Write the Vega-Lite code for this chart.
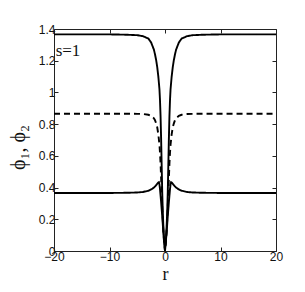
{
"$schema": "https://vega.github.io/schema/vega-lite/v6.json",
"width": 222, "height": 222,
"autosize": "none",
"padding": {"left": 54, "top": 29, "right": 29, "bottom": 41},
"background": "white",
"config": {
  "view": {"stroke": null},
  "axis": {"grid": false, "domainColor": "#222", "domainWidth": 1, "tickColor": "#222", "tickWidth": 1, "tickSize": -4, "labelPadding": 3, "labelFont": "Liberation Sans", "labelFontSize": 12, "labelColor": "#111", "labelFlush": false, "titleFont": "Liberation Serif", "titleFontSize": 18, "titleFontWeight": "normal", "titleColor": "#111"}
},
"datasets": {
  "curves": [
    {"r":-20,"v":1.366,"s":"a"},{"r":-10,"v":1.366,"s":"a"},{"r":-7,"v":1.364,"s":"a"},{"r":-5,"v":1.361,"s":"a"},{"r":-4,"v":1.355,"s":"a"},{"r":-3,"v":1.34,"s":"a"},{"r":-2.5,"v":1.315,"s":"a"},{"r":-2,"v":1.27,"s":"a"},{"r":-1.8,"v":1.24,"s":"a"},{"r":-1.6,"v":1.205,"s":"a"},{"r":-1.4,"v":1.16,"s":"a"},{"r":-1.2,"v":1.10,"s":"a"},{"r":-1,"v":1.02,"s":"a"},{"r":-0.9,"v":0.95,"s":"a"},{"r":-0.8,"v":0.85,"s":"a"},{"r":-0.7,"v":0.71,"s":"a"},{"r":-0.6,"v":0.54,"s":"a"},{"r":-0.5,"v":0.37,"s":"a"},{"r":-0.4,"v":0.25,"s":"a"},{"r":-0.3,"v":0.16,"s":"a"},{"r":-0.2,"v":0.09,"s":"a"},{"r":-0.1,"v":0.04,"s":"a"},
    {"r":0,"v":0,"s":"a"},
    {"r":0.1,"v":0.04,"s":"a"},{"r":0.2,"v":0.09,"s":"a"},{"r":0.3,"v":0.16,"s":"a"},{"r":0.4,"v":0.25,"s":"a"},{"r":0.5,"v":0.37,"s":"a"},{"r":0.6,"v":0.54,"s":"a"},{"r":0.7,"v":0.71,"s":"a"},{"r":0.8,"v":0.85,"s":"a"},{"r":0.9,"v":0.95,"s":"a"},{"r":1,"v":1.02,"s":"a"},{"r":1.2,"v":1.10,"s":"a"},{"r":1.4,"v":1.16,"s":"a"},{"r":1.6,"v":1.205,"s":"a"},{"r":1.8,"v":1.24,"s":"a"},{"r":2,"v":1.27,"s":"a"},{"r":2.5,"v":1.315,"s":"a"},{"r":3,"v":1.34,"s":"a"},{"r":4,"v":1.355,"s":"a"},{"r":5,"v":1.361,"s":"a"},{"r":7,"v":1.364,"s":"a"},{"r":10,"v":1.366,"s":"a"},{"r":20,"v":1.366,"s":"a"},

    {"r":-20,"v":0.866,"s":"b"},{"r":-10,"v":0.866,"s":"b"},{"r":-7,"v":0.866,"s":"b"},{"r":-5,"v":0.865,"s":"b"},{"r":-4,"v":0.864,"s":"b"},{"r":-3,"v":0.859,"s":"b"},{"r":-2.5,"v":0.852,"s":"b"},{"r":-2,"v":0.837,"s":"b"},{"r":-1.8,"v":0.825,"s":"b"},{"r":-1.6,"v":0.805,"s":"b"},{"r":-1.4,"v":0.78,"s":"b"},{"r":-1.2,"v":0.735,"s":"b"},{"r":-1,"v":0.67,"s":"b"},{"r":-0.9,"v":0.62,"s":"b"},{"r":-0.8,"v":0.55,"s":"b"},{"r":-0.7,"v":0.46,"s":"b"},{"r":-0.6,"v":0.37,"s":"b"},{"r":-0.5,"v":0.28,"s":"b"},{"r":-0.4,"v":0.2,"s":"b"},{"r":-0.3,"v":0.13,"s":"b"},{"r":-0.2,"v":0.07,"s":"b"},{"r":-0.1,"v":0.03,"s":"b"},
    {"r":0,"v":0,"s":"b"},
    {"r":0.1,"v":0.03,"s":"b"},{"r":0.2,"v":0.07,"s":"b"},{"r":0.3,"v":0.13,"s":"b"},{"r":0.4,"v":0.2,"s":"b"},{"r":0.5,"v":0.28,"s":"b"},{"r":0.6,"v":0.37,"s":"b"},{"r":0.7,"v":0.46,"s":"b"},{"r":0.8,"v":0.55,"s":"b"},{"r":0.9,"v":0.62,"s":"b"},{"r":1,"v":0.67,"s":"b"},{"r":1.2,"v":0.735,"s":"b"},{"r":1.4,"v":0.78,"s":"b"},{"r":1.6,"v":0.805,"s":"b"},{"r":1.8,"v":0.825,"s":"b"},{"r":2,"v":0.837,"s":"b"},{"r":2.5,"v":0.852,"s":"b"},{"r":3,"v":0.859,"s":"b"},{"r":4,"v":0.864,"s":"b"},{"r":5,"v":0.865,"s":"b"},{"r":7,"v":0.866,"s":"b"},{"r":10,"v":0.866,"s":"b"},{"r":20,"v":0.866,"s":"b"},

    {"r":-20,"v":0.366,"s":"c"},{"r":-10,"v":0.366,"s":"c"},{"r":-7,"v":0.367,"s":"c"},{"r":-5,"v":0.369,"s":"c"},{"r":-4,"v":0.372,"s":"c"},{"r":-3,"v":0.38,"s":"c"},{"r":-2.5,"v":0.388,"s":"c"},{"r":-2,"v":0.40,"s":"c"},{"r":-1.8,"v":0.407,"s":"c"},{"r":-1.6,"v":0.415,"s":"c"},{"r":-1.4,"v":0.424,"s":"c"},{"r":-1.25,"v":0.431,"s":"c"},{"r":-1.1,"v":0.434,"s":"c"},{"r":-1.0,"v":0.42,"s":"c"},{"r":-0.9,"v":0.39,"s":"c"},{"r":-0.8,"v":0.35,"s":"c"},{"r":-0.7,"v":0.31,"s":"c"},{"r":-0.6,"v":0.265,"s":"c"},{"r":-0.5,"v":0.22,"s":"c"},{"r":-0.4,"v":0.17,"s":"c"},{"r":-0.3,"v":0.12,"s":"c"},{"r":-0.2,"v":0.08,"s":"c"},{"r":-0.1,"v":0.045,"s":"c"},
    {"r":0,"v":0.02,"s":"c"},
    {"r":0.1,"v":0.045,"s":"c"},{"r":0.2,"v":0.08,"s":"c"},{"r":0.3,"v":0.12,"s":"c"},{"r":0.4,"v":0.17,"s":"c"},{"r":0.5,"v":0.22,"s":"c"},{"r":0.6,"v":0.265,"s":"c"},{"r":0.7,"v":0.31,"s":"c"},{"r":0.8,"v":0.35,"s":"c"},{"r":0.9,"v":0.39,"s":"c"},{"r":1.0,"v":0.42,"s":"c"},{"r":1.1,"v":0.434,"s":"c"},{"r":1.25,"v":0.431,"s":"c"},{"r":1.4,"v":0.424,"s":"c"},{"r":1.6,"v":0.415,"s":"c"},{"r":1.8,"v":0.407,"s":"c"},{"r":2,"v":0.40,"s":"c"},{"r":2.5,"v":0.388,"s":"c"},{"r":3,"v":0.38,"s":"c"},{"r":4,"v":0.372,"s":"c"},{"r":5,"v":0.369,"s":"c"},{"r":7,"v":0.367,"s":"c"},{"r":10,"v":0.366,"s":"c"},{"r":20,"v":0.366,"s":"c"}
  ],
  "label": [{"r": -19.7, "v": 1.228, "t": "s=1"}]
},
"layer": [
  {
    "data": {"name": "curves"},
    "mark": {"type": "line", "color": "black", "strokeWidth": 1.9, "clip": true},
    "encoding": {
      "x": {"field": "r", "type": "quantitative", "scale": {"domain": [-20, 20], "nice": false, "zero": false},
            "axis": {"orient": "bottom", "title": "r", "values": [-20, -10, 0, 10, 20], "labelPadding": 4, "titlePadding": 3}},
      "y": {"field": "v", "type": "quantitative", "scale": {"domain": [0, 1.4], "nice": false},
            "axis": {"orient": "left", "title": "ϕ₁, ϕ₂", "titleFontSize": 20, "values": [0, 0.2, 0.4, 0.6, 0.8, 1, 1.2, 1.4], "format": "~g", "titlePadding": 10, "titleY": 118}},
      "detail": {"field": "s", "type": "nominal"},
      "strokeDash": {"field": "s", "type": "nominal", "scale": {"domain": ["a", "b", "c"], "range": [[1, 0], [6, 4], [1, 0]]}, "legend": null}
    }
  },
  {
    "data": {"name": "label"},
    "mark": {"type": "text", "align": "left", "baseline": "alphabetic", "font": "Liberation Serif", "fontSize": 17, "color": "#111"},
    "encoding": {
      "x": {"field": "r", "type": "quantitative", "scale": {"domain": [-20, 20], "nice": false, "zero": false},
            "axis": {"orient": "top", "title": null, "labels": false, "values": [-20, -10, 0, 10, 20]}},
      "y": {"field": "v", "type": "quantitative", "scale": {"domain": [0, 1.4], "nice": false},
            "axis": {"orient": "right", "title": null, "labels": false, "values": [0, 0.2, 0.4, 0.6, 0.8, 1, 1.2, 1.4]}},
      "text": {"field": "t"}
    }
  }
],
"resolve": {"axis": {"x": "independent", "y": "independent"}}
}
